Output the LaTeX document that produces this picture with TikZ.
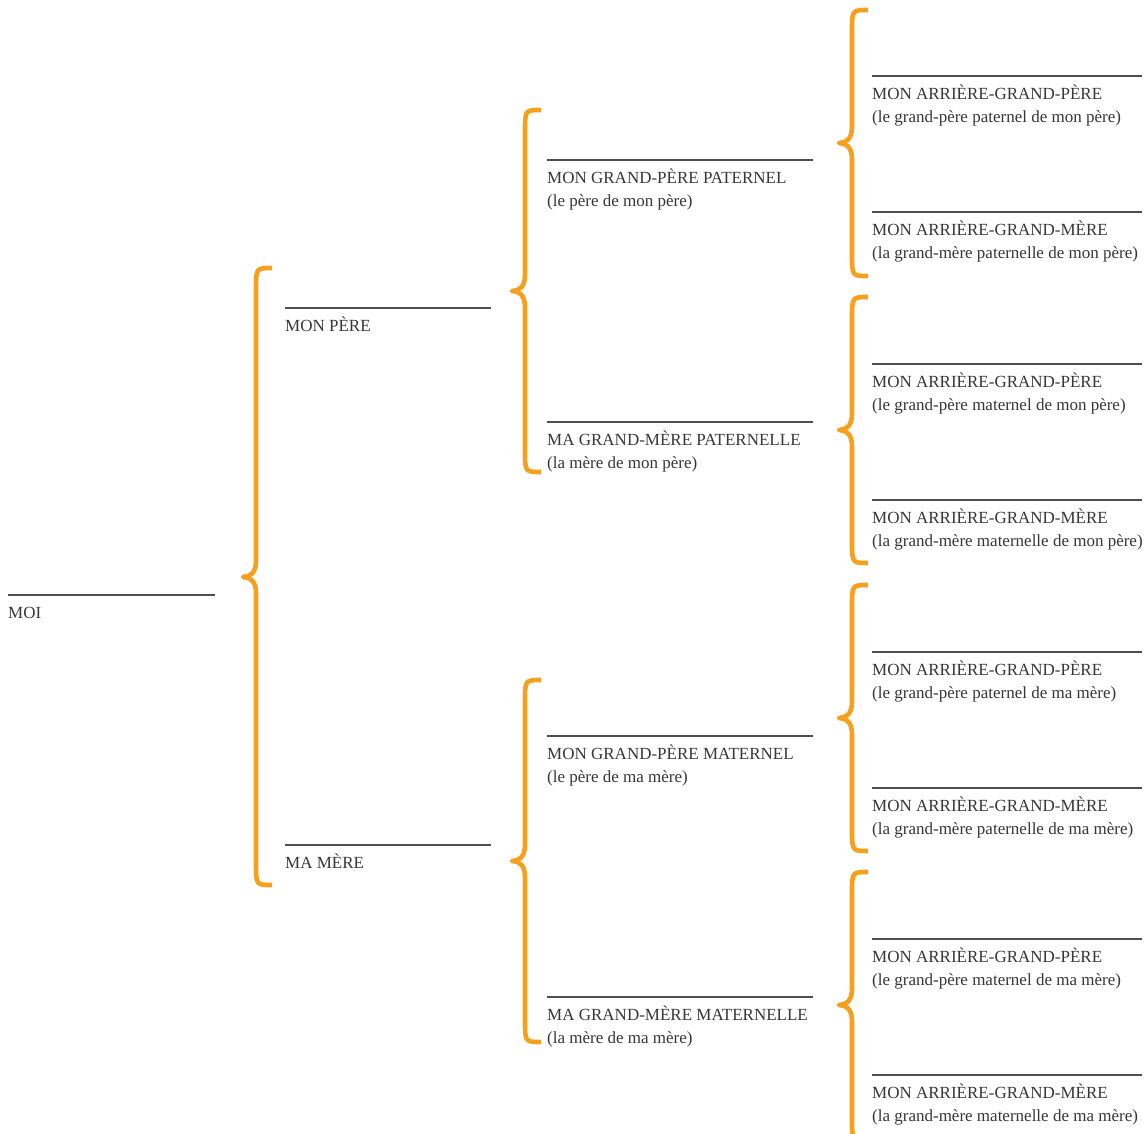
\documentclass[tikz,border=0pt]{standalone}
\usepackage{fontspec}
\setmainfont{Liberation Serif}
\definecolor{brc}{RGB}{246,160,30}
\definecolor{txtc}{RGB}{55,55,55}
\definecolor{rulec}{RGB}{80,80,80}
\tikzset{
  bracestyle/.style={draw=brc,line width=4.6pt,line cap=butt,line join=round},
  ruleline/.style={draw=rulec,line width=1.4pt},
  person/.style={inner sep=0pt,anchor=base west,text=txtc,font=\fontsize{17}{20}\selectfont},
}
% #1 spine x, #2 top y, #3 tip y, #4 bottom y
\newcommand\famBrace[4]{%
  \draw[bracestyle] ({#1+16},#2) .. controls (#1,#2) .. (#1,{#2+22})
    -- (#1,{#3-16}) .. controls (#1,{#3-4}) and ({#1-6},#3) .. ({#1-13},#3)
    .. controls ({#1-6},#3) and (#1,{#3+4}) .. (#1,{#3+16})
    -- (#1,{#4-22}) .. controls (#1,#4) .. ({#1+16},#4);}
% #1 name, #2 x0, #3 x1, #4 line y, #5 title, #6 subtitle
\newcommand\famPerson[6]{%
  \coordinate (#1a) at (#2,#4);
  \coordinate (#1b) at (#3,#4);
  \draw[ruleline] (#1a) -- (#1b);
  \node[person] (#1) at (#2,{#4+23}) {#5};
  \node[person] (#1s) at (#2,{#4+46}) {#6};}
\begin{document}
\begin{tikzpicture}[x=1pt,y=-1pt]
\useasboundingbox[fill=white] (0,0) rectangle (1146,1133);
\begin{scope}
\clip (0,0) rectangle (1146,1133);
\famBrace{256}{268}{577}{885}
\famBrace{525}{110}{291}{472}
\famBrace{525}{680}{861}{1042}
\famBrace{852}{10}{143}{276}
\famBrace{852}{297}{430}{563}
\famBrace{852}{585}{718}{851}
\famBrace{852}{872}{1005}{1140}
\end{scope}
\famPerson{moi}{8}{215}{595}{MOI}{}
\famPerson{pere}{285}{491}{308}{MON PÈRE}{}
\famPerson{mere}{285}{491}{845}{MA MÈRE}{}
\famPerson{gpp}{547}{813}{160}{MON GRAND-PÈRE PATERNEL}{(le père de mon père)}
\famPerson{gmp}{547}{813}{422}{MA GRAND-MÈRE PATERNELLE}{(la mère de mon père)}
\famPerson{gpm}{547}{813}{736}{MON GRAND-PÈRE MATERNEL}{(le père de ma mère)}
\famPerson{gmm}{547}{813}{997}{MA GRAND-MÈRE MATERNELLE}{(la mère de ma mère)}
\famPerson{a1}{872}{1142}{76}{MON ARRIÈRE-GRAND-PÈRE}{(le grand-père paternel de mon père)}
\famPerson{a2}{872}{1142}{212}{MON ARRIÈRE-GRAND-MÈRE}{(la grand-mère paternelle de mon père)}
\famPerson{a3}{872}{1142}{364}{MON ARRIÈRE-GRAND-PÈRE}{(le grand-père maternel de mon père)}
\famPerson{a4}{872}{1142}{500}{MON ARRIÈRE-GRAND-MÈRE}{(la grand-mère maternelle de mon père)}
\famPerson{a5}{872}{1142}{652}{MON ARRIÈRE-GRAND-PÈRE}{(le grand-père paternel de ma mère)}
\famPerson{a6}{872}{1142}{788}{MON ARRIÈRE-GRAND-MÈRE}{(la grand-mère paternelle de ma mère)}
\famPerson{a7}{872}{1142}{939}{MON ARRIÈRE-GRAND-PÈRE}{(le grand-père maternel de ma mère)}
\famPerson{a8}{872}{1142}{1075}{MON ARRIÈRE-GRAND-MÈRE}{(la grand-mère maternelle de ma mère)}
\end{tikzpicture}
\end{document}
